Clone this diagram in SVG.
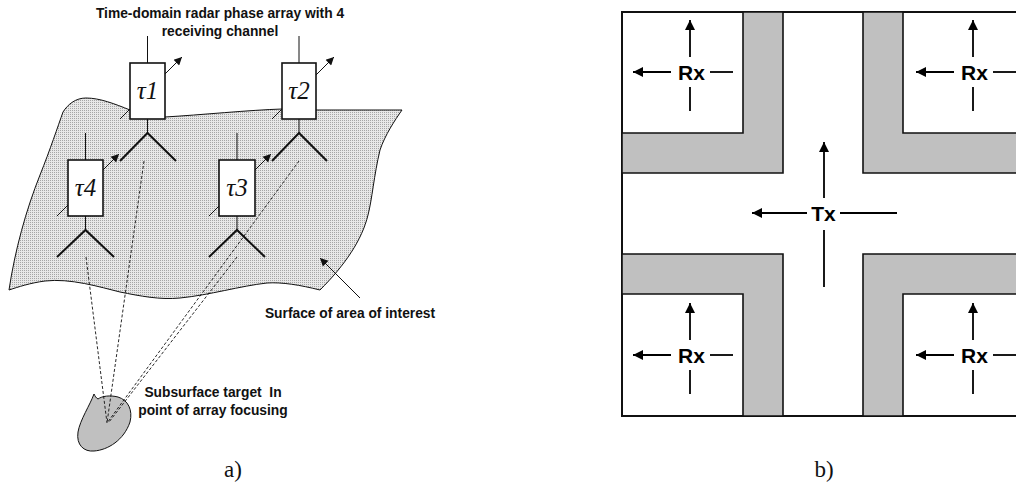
<svg xmlns="http://www.w3.org/2000/svg" width="1016" height="484" viewBox="0 0 1016 484">
  <defs>
    <style>
      .lbl { font-family: "Liberation Sans", Arial, sans-serif; font-weight: bold; font-size: 13.8px; fill: #111; }
      .tau { font-family: "Liberation Serif", "Times New Roman", serif; font-style: italic; font-size: 25px; fill: #111; }
      .cap { font-family: "Liberation Serif", "Times New Roman", serif; font-size: 23px; fill: #111; }
      .rx { font-family: "Liberation Sans", Arial, sans-serif; font-weight: bold; font-size: 21px; fill: #000; }
      .box { fill: #fff; stroke: #111; stroke-width: 1.6; }
      .wire { stroke: #111; stroke-width: 1; fill: none; }
      .ant { stroke: #111; stroke-width: 2; fill: none; }
      .dash { stroke: #111; stroke-width: 0.9; stroke-dasharray: 3 2; fill: none; }
      .wall { fill: #c0c0c0; stroke: #111; stroke-width: 1.6; }
      .dir { stroke: #000; stroke-width: 1.8; fill: none; }
    </style>
    <pattern id="halftone" width="2" height="2" patternUnits="userSpaceOnUse">
      <rect width="2" height="2" fill="#e8e8e8"/>
      <rect width="1" height="1" fill="#a6a6a6"/>
    </pattern>
    <marker id="tip" viewBox="0 0 10 10" refX="10" refY="5" markerWidth="11" markerHeight="8" markerUnits="userSpaceOnUse" orient="auto">
      <path d="M0,0 L10,5 L0,10 Z" fill="#111"/>
    </marker>
    <marker id="bigtip" viewBox="0 0 10 10" refX="10" refY="5" markerWidth="14" markerHeight="10" markerUnits="userSpaceOnUse" orient="auto">
      <path d="M0,0 L10,5 L0,10 Z" fill="#000"/>
    </marker>
  </defs>

  <!-- (a) phased array over the surface -->
  <g id="surface">
    <path d="M9,290 C15,250 26,210 40,175 C50,150 58,126 63,112 C68,104 76,98 86,98 C100,98 115,104 130,110 L165,117 C200,115 250,110 282,109 L316,110 L402,110 C395,120 385,135 380,150 C374,175 372,200 368,215 C362,240 345,265 320,290 C300,285 282,282 267,283 C240,286 210,295 180,298 C160,300 140,296 120,292 C100,287 70,278 45,281 C30,283 18,287 9,290 Z" fill="url(#halftone)" stroke="#111" stroke-width="1"/>
  </g>

  <g id="target">
    <path d="M94,394 C90,405 80,420 78,432 C76,445 84,452 94,451 C108,450 124,440 130,422 C133,410 128,400 118,397 C110,395 102,396 98,399 C96,398 95,396 94,394 Z" fill="#c0c0c0" stroke="#111" stroke-width="1"/>
  </g>

  <g id="rays">
    <line class="dash" x1="86" y1="257" x2="107" y2="423"/>
    <line class="dash" x1="144" y1="161" x2="107" y2="423"/>
    <line class="dash" x1="299" y1="161" x2="107" y2="423"/>
    <line class="dash" x1="237" y1="257" x2="109" y2="422"/>
  </g>

  <g id="ch1">
    <line class="wire" x1="147.5" y1="36" x2="147.5" y2="63"/>
    <line class="wire" x1="120" y1="119" x2="182" y2="57" marker-end="url(#tip)"/>
    <rect class="box" x="130" y="63" width="35" height="56"/>
    <text class="tau" x="147.5" y="99" text-anchor="middle">τ1</text>
    <polyline class="ant" points="120,161 147.5,133 176,161"/>
    <line class="wire" x1="147.5" y1="119" x2="147.5" y2="133"/>
  </g>

  <g id="ch2">
    <line class="wire" x1="299" y1="36" x2="299" y2="63"/>
    <line class="wire" x1="272" y1="119" x2="334" y2="57" marker-end="url(#tip)"/>
    <rect class="box" x="282" y="63" width="34" height="56"/>
    <text class="tau" x="299" y="99" text-anchor="middle">τ2</text>
    <polyline class="ant" points="272,161 299,133 327,161"/>
    <line class="wire" x1="299" y1="119" x2="299" y2="133"/>
  </g>

  <g id="ch4">
    <line class="wire" x1="85.5" y1="133" x2="85.5" y2="160"/>
    <line class="wire" x1="57" y1="216" x2="119" y2="154" marker-end="url(#tip)"/>
    <rect class="box" x="68" y="160" width="35" height="56"/>
    <text class="tau" x="85.5" y="196" text-anchor="middle">τ4</text>
    <polyline class="ant" points="57,257 85.5,230 114,257"/>
    <line class="wire" x1="85.5" y1="216" x2="85.5" y2="230"/>
  </g>

  <g id="ch3">
    <line class="wire" x1="237" y1="133" x2="237" y2="160"/>
    <line class="wire" x1="209" y1="216" x2="271" y2="154" marker-end="url(#tip)"/>
    <rect class="box" x="219" y="160" width="36" height="56"/>
    <text class="tau" x="237" y="196" text-anchor="middle">τ3</text>
    <polyline class="ant" points="209,257 237,230 265,257"/>
    <line class="wire" x1="237" y1="216" x2="237" y2="230"/>
  </g>

  <g id="pointer">
    <line class="wire" x1="360" y1="298" x2="320" y2="258" marker-end="url(#tip)"/>
  </g>

  <g id="labels-a">
    <text class="lbl" x="220" y="18" text-anchor="middle">Time-domain radar phase array with 4</text>
    <text class="lbl" x="220" y="36" text-anchor="middle">receiving channel</text>
    <text class="lbl" x="350" y="318" text-anchor="middle">Surface of area of interest</text>
    <text class="lbl" x="213" y="397" text-anchor="middle">Subsurface target&#160; In</text>
    <text class="lbl" x="213" y="415" text-anchor="middle">point of array focusing</text>
    <text class="cap" x="233" y="477" text-anchor="middle">a)</text>
  </g>

  <!-- (b) cross-shaped layout: Tx in the corridor, Rx in the four corner rooms -->
  <g id="plan">
    <rect x="622" y="12" width="404" height="404" fill="#fff" stroke="#111" stroke-width="2"/>
    <polygon class="wall" points="743,12 783,12 783,173 622,173 622,133 743,133"/>
    <polygon class="wall" points="863,12 903,12 903,133 1026,133 1026,173 863,173"/>
    <polygon class="wall" points="622,254 783,254 783,416 743,416 743,294 622,294"/>
    <polygon class="wall" points="863,254 1026,254 1026,294 903,294 903,416 863,416"/>
  </g>

  <g id="rx-tl">
    <line class="dir" x1="690" y1="57" x2="690" y2="20" marker-end="url(#bigtip)"/>
    <line class="dir" x1="690" y1="87" x2="690" y2="111"/>
    <line class="dir" x1="671" y1="72" x2="633" y2="72" marker-end="url(#bigtip)"/>
    <line class="dir" x1="710" y1="72" x2="733" y2="72"/>
    <text class="rx" x="691.5" y="79.5" text-anchor="middle">Rx</text>
  </g>
  <g id="rx-tr">
    <line class="dir" x1="973" y1="57" x2="973" y2="20" marker-end="url(#bigtip)"/>
    <line class="dir" x1="973" y1="87" x2="973" y2="111"/>
    <line class="dir" x1="954" y1="72" x2="916" y2="72" marker-end="url(#bigtip)"/>
    <line class="dir" x1="993" y1="72" x2="1016" y2="72"/>
    <text class="rx" x="974.5" y="79.5" text-anchor="middle">Rx</text>
  </g>
  <g id="rx-bl">
    <line class="dir" x1="690" y1="340" x2="690" y2="303" marker-end="url(#bigtip)"/>
    <line class="dir" x1="690" y1="370" x2="690" y2="394"/>
    <line class="dir" x1="671" y1="355" x2="633" y2="355" marker-end="url(#bigtip)"/>
    <line class="dir" x1="710" y1="355" x2="733" y2="355"/>
    <text class="rx" x="691.5" y="362.5" text-anchor="middle">Rx</text>
  </g>
  <g id="rx-br">
    <line class="dir" x1="973" y1="340" x2="973" y2="303" marker-end="url(#bigtip)"/>
    <line class="dir" x1="973" y1="370" x2="973" y2="394"/>
    <line class="dir" x1="954" y1="355" x2="916" y2="355" marker-end="url(#bigtip)"/>
    <line class="dir" x1="993" y1="355" x2="1016" y2="355"/>
    <text class="rx" x="974.5" y="362.5" text-anchor="middle">Rx</text>
  </g>
  <g id="tx">
    <line class="dir" x1="824" y1="198" x2="824" y2="142" marker-end="url(#bigtip)"/>
    <line class="dir" x1="824" y1="230" x2="824" y2="287"/>
    <line class="dir" x1="807" y1="213" x2="752" y2="213" marker-end="url(#bigtip)"/>
    <line class="dir" x1="840" y1="213" x2="897" y2="213"/>
    <text class="rx" x="823.5" y="221" text-anchor="middle">Tx</text>
  </g>
  <text class="cap" x="824" y="477" text-anchor="middle">b)</text>
</svg>
